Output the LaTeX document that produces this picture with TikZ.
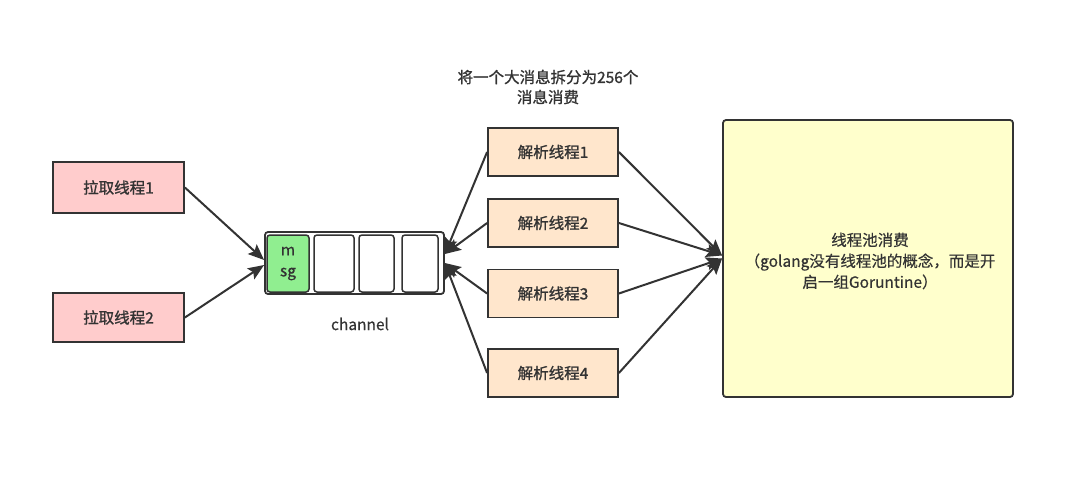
\documentclass[tikz,border=0pt]{standalone}
\usepackage{fontspec}
\setmainfont{Noto Sans CJK SC}
\newfontfamily\medfont{Noto Sans CJK SC}[FakeBold=1.2]
\newfontfamily\semifont{Noto Sans CJK SC}[FakeBold=0.5]
\usetikzlibrary{arrows.meta,calc}
\definecolor{ink}{HTML}{333333}
\definecolor{pinkfill}{HTML}{FFCCCC}
\definecolor{peachfill}{HTML}{FFE6CC}
\definecolor{yellowfill}{HTML}{FFFFCC}
\definecolor{greenfill}{HTML}{90EE90}
\tikzset{
  box/.style={draw=ink, line width=1.8pt, text=ink, font=\medfont\fontsize{15.5}{18}\selectfont, inner sep=0pt},
  pullbox/.style={box, fill=pinkfill, minimum width=131pt},
  parsebox/.style={box, fill=peachfill, minimum width=130pt, minimum height=48pt},
  cell/.style={draw=ink, line width=1.5pt, rounded corners=3pt, fill=white, minimum height=57pt, inner sep=0pt},
  arr/.style={draw=ink, line width=2pt, -{Stealth[length=16pt,width=13pt,inset=3pt]}},
  lbl/.style={text=ink, font=\semifont\fontsize{15.5}{20}\selectfont, align=center, inner sep=0pt}
}
\begin{document}
\begin{tikzpicture}[x=1pt,y=-1pt]
\useasboundingbox[fill=white] (0,0) rectangle (1080,499);
% pull threads
\node[pullbox, minimum height=51pt] (p1) at (118.5,187.5) {拉取线程1};
\node[pullbox, minimum height=49pt] (p2) at (118.5,317.5) {拉取线程2};
% channel
\node[draw=ink, line width=1.8pt, rounded corners=3pt, fill=white, minimum width=179pt, minimum height=62pt, inner sep=0pt] (chan) at (354.5,263) {};
\node[cell, fill=greenfill, minimum width=42pt, align=center, text=ink, font=\semifont\fontsize{15.5}{21}\selectfont] (c1) at (288,263.5) {m\\sg};
\node[cell, minimum width=40pt] (c2) at (334,263.5) {};
\node[cell, minimum width=35pt] (c3) at (376.5,263.5) {};
\node[cell, minimum width=36pt] (c4) at (420,263.5) {};
\node[lbl] (clabel) at (360,324) {channel};
% title
\node[lbl, font=\medfont\fontsize{15.5}{20}\selectfont] (title) at (548,87) {将一个大消息拆分为256个\\消息消费};
% parse threads
\node[parsebox] (b1) at (553,152) {解析线程1};
\node[parsebox] (b2) at (553,223) {解析线程2};
\node[parsebox] (b3) at (553,293.5) {解析线程3};
\node[parsebox] (b4) at (553,373) {解析线程4};
% pool
\node[draw=ink, line width=1.8pt, rounded corners=3pt, fill=yellowfill, minimum width=290pt, minimum height=277pt, inner sep=0pt] (pool) at (868,258.5) {};
\node[lbl, font=\semifont\fontsize{15.5}{21}\selectfont] (pooltext) at (870,261) {线程池消费\\（golang没有线程池的概念，而是开\\启一组Goruntine）};
% arrows
\draw[arr] (p1.east) -- ([yshift=3pt]chan.west);
\draw[arr] (p2.east) -- ([yshift=-2pt]chan.west);
\draw[arr] (b1.west) -- ([yshift=9pt]chan.east);
\draw[arr] (b2.west) -- ([yshift=9pt]chan.east);
\draw[arr] (b3.west) -- ([yshift=0pt]chan.east);
\draw[arr] (b4.west) -- ([yshift=0pt]chan.east);
\draw[arr] (b1.east) -- ([yshift=3pt]pool.west);
\draw[arr] (b2.east) -- ([yshift=3pt]pool.west);
\draw[arr] (b3.east) -- ([yshift=0pt]pool.west);
\draw[arr] (b4.east) -- ([yshift=0pt]pool.west);
\end{tikzpicture}
\end{document}
